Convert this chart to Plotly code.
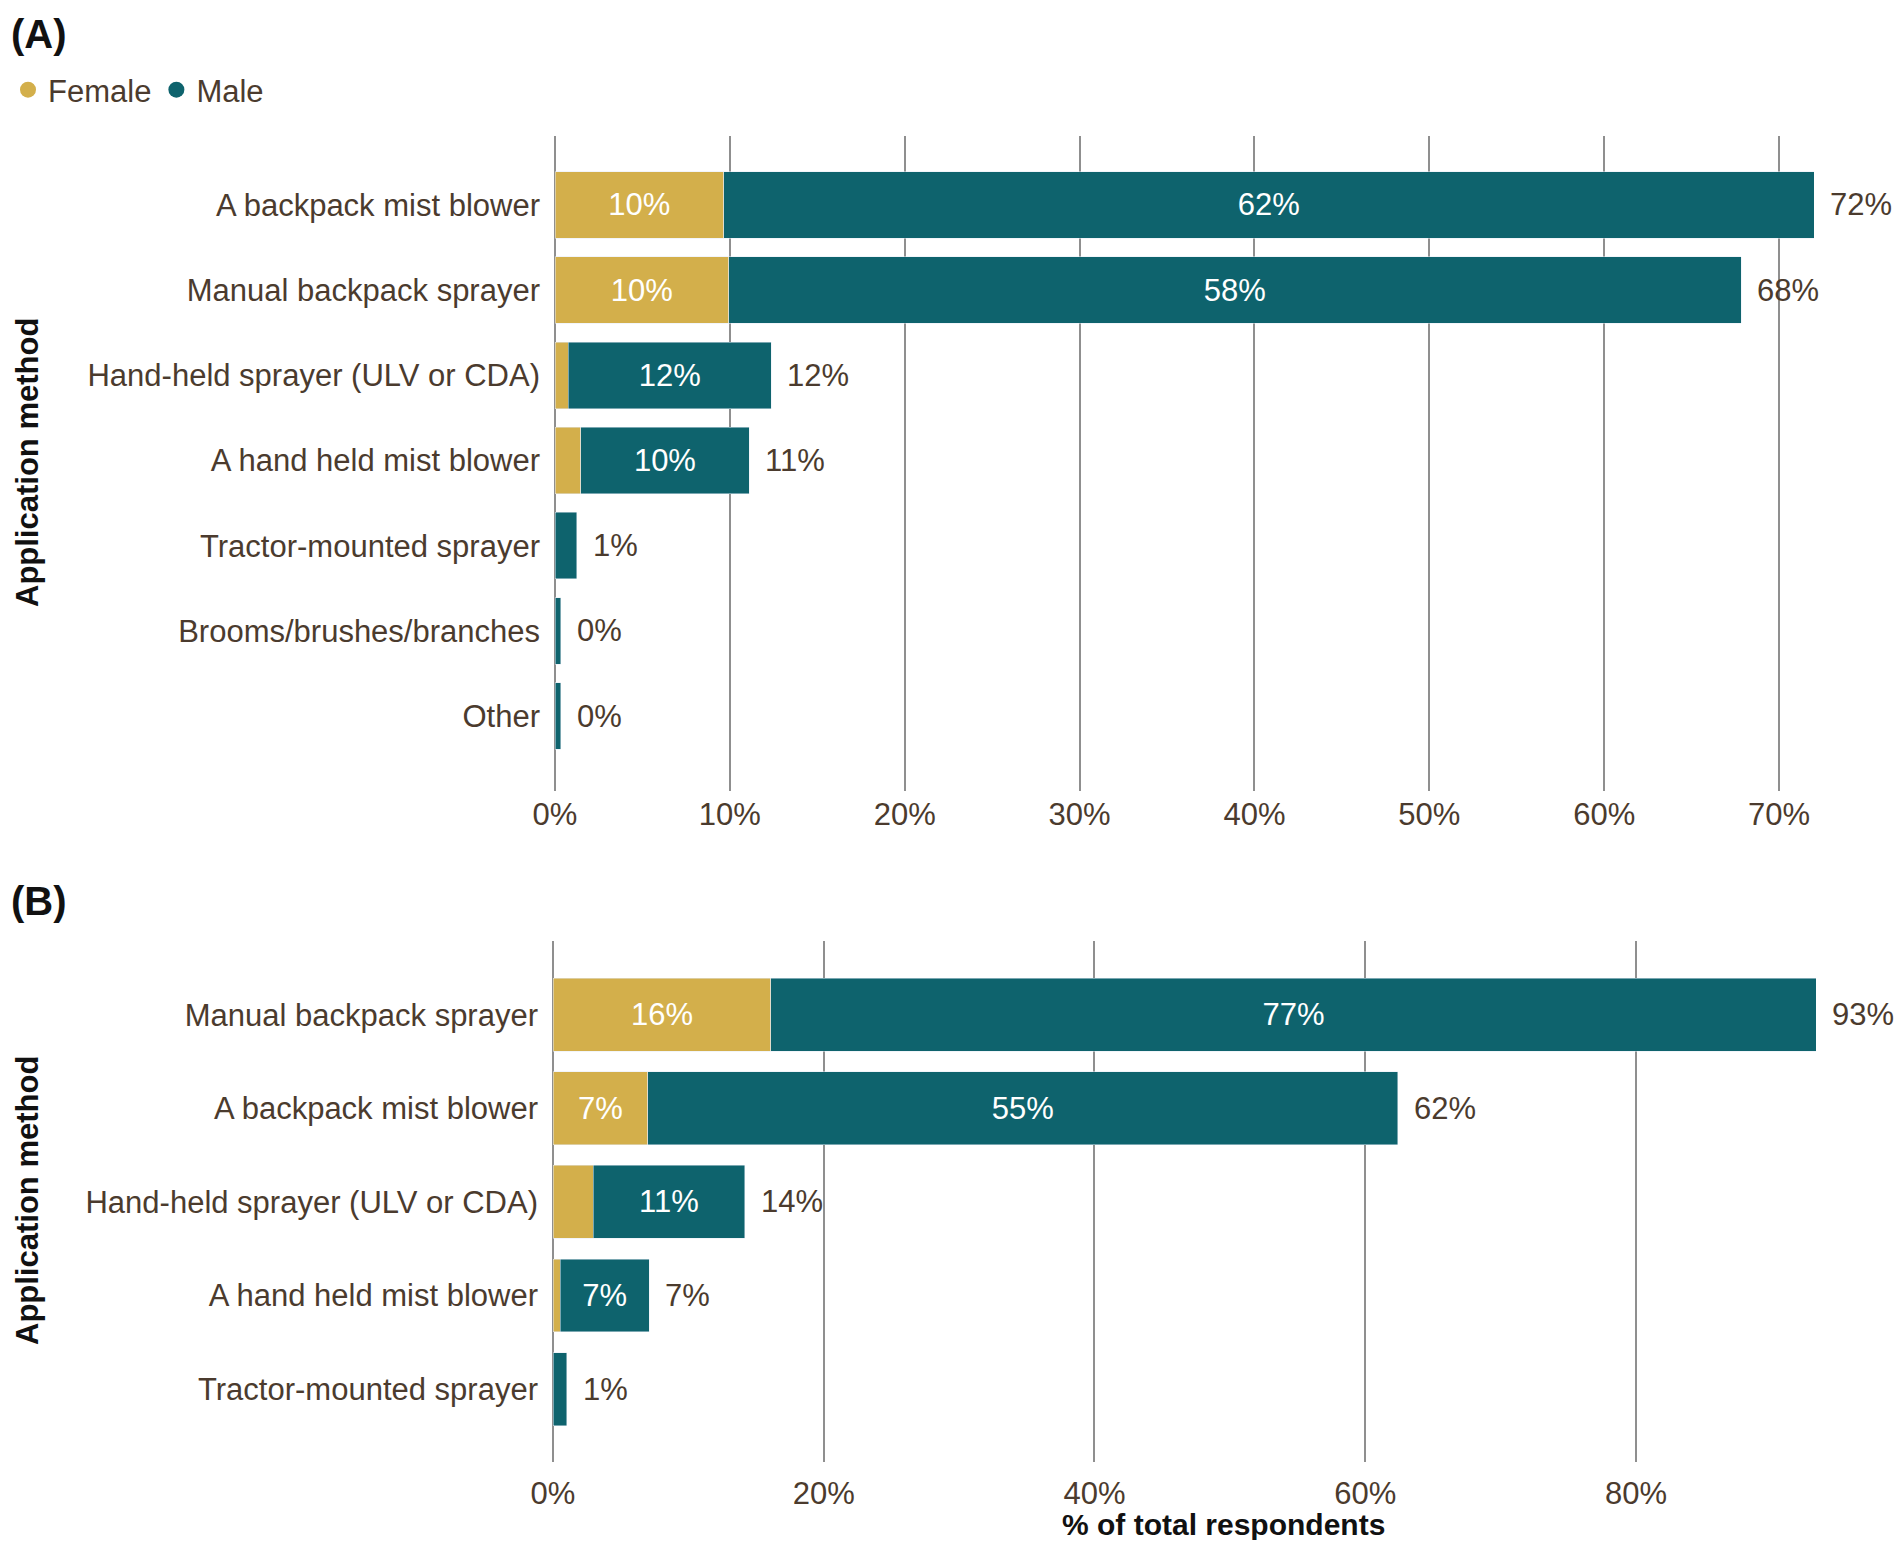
import plotly.graph_objects as go

# panel A
methods_a = ["A backpack mist blower", "Manual backpack sprayer", "Hand-held sprayer (ULV or CDA)",
             "A hand held mist blower", "Tractor-mounted sprayer", "Brooms/brushes/branches", "Other"]
female_a = [9.65, 9.93, 0.76, 1.46, 0.0, 0.0, 0.0]
male_a = [62.35, 57.9, 11.6, 9.65, 1.24, 0.33, 0.33]

# panel B
methods_b = ["Manual backpack sprayer", "A backpack mist blower", "Hand-held sprayer (ULV or CDA)",
             "A hand held mist blower", "Tractor-mounted sprayer"]
female_b = [16.1, 7.0, 2.96, 0.52, 0.0]
male_b = [77.2, 55.4, 11.2, 6.6, 1.0]

FEMALE = "#D3AF4B"
MALE = "#0E636D"
BROWN = "#4B3B2E"
GRID = "#8F8F8F"
FONT = "Arial, Liberation Sans, sans-serif"
OFF = 8  # page body margin
W, H = 1902 - 2 * OFF, 1548 - 2 * OFF


def px(x):
    return (x - OFF) / W


def py(y):
    return 1 - (y - OFF) / H


def lab(vals):
    return [f"{round(v)}%" if v >= 4 else "" for v in vals]


fig = go.Figure()

panels = [
    ("x", "y", methods_a, female_a, male_a),
    ("x2", "y2", methods_b, female_b, male_b),
]
for xa, ya, cats, fem, mal in panels:
    fig.add_trace(go.Bar(y=cats, x=fem, orientation="h", marker_color=FEMALE, xaxis=xa, yaxis=ya,
                         text=lab(fem), textposition="inside", insidetextanchor="middle",
                         textfont=dict(color="white", size=31, family=FONT),
                         showlegend=False, hoverinfo="skip"))
    fig.add_trace(go.Bar(y=cats, x=mal, orientation="h", marker_color=MALE, xaxis=xa, yaxis=ya,
                         text=lab(mal), textposition="inside", insidetextanchor="middle",
                         textfont=dict(color="white", size=31, family=FONT),
                         showlegend=False, hoverinfo="skip"))
    for c, f, m in zip(cats, fem, mal):
        fig.add_annotation(x=f + m, y=c, xref=xa, yref=ya, text=f"{round(f + m)}%",
                           showarrow=False, xanchor="left", xshift=14,
                           font=dict(size=31, color=BROWN, family=FONT))

# legend entries as circles
fig.add_trace(go.Scatter(x=[None], y=[None], mode="markers", name="Female",
                         marker=dict(symbol="circle", size=17, color=FEMALE)))
fig.add_trace(go.Scatter(x=[None], y=[None], mode="markers", name="Male",
                         marker=dict(symbol="circle", size=17, color=MALE)))

tot_a = max(f + m for f, m in zip(female_a, male_a))
tot_b = max(f + m for f, m in zip(female_b, male_b))

axis_common = dict(showgrid=True, gridcolor=GRID, gridwidth=2, zeroline=True, zerolinecolor=GRID,
                   zerolinewidth=2, showline=False, ticks="", ticksuffix="%", automargin=False,
                   tickfont=dict(size=31, color=BROWN, family=FONT))
yaxis_common = dict(showgrid=False, zeroline=False, showline=False, ticks="", automargin=False,
                    ticklabelstandoff=14, tickfont=dict(size=31, color=BROWN, family=FONT))

fig.update_layout(
    width=W, height=H,
    margin=dict(l=0, r=0, t=0, b=0),
    paper_bgcolor="white", plot_bgcolor="white",
    barmode="stack", bargap=0.22,
    font=dict(family=FONT, color=BROWN),
    xaxis=dict(domain=[px(555), px(1814)], range=[0, tot_a], dtick=10, anchor="y",
               ticklabelstandoff=2, **axis_common),
    yaxis=dict(domain=[py(791), py(136)], anchor="x", categoryorder="array", categoryarray=methods_a,
               range=[len(methods_a) - 1 + 0.88, -0.81], **yaxis_common),
    xaxis2=dict(domain=[px(553), px(1816)], range=[0, tot_b], dtick=20, anchor="y2",
                ticklabelstandoff=10, **axis_common),
    yaxis2=dict(domain=[py(1462), py(941)], anchor="x2", categoryorder="array", categoryarray=methods_b,
                range=[len(methods_b) - 1 + 0.78, -0.79], **yaxis_common),
    legend=dict(orientation="h", traceorder="normal", x=0, xanchor="left", y=py(90),
                yanchor="middle", font=dict(size=31, color=BROWN, family=FONT),
                bgcolor="rgba(0,0,0,0)"),
)

# panel letters and axis titles
for txt, yc in [("(A)", 34), ("(B)", 901)]:
    fig.add_annotation(text=f"<b>{txt}</b>", x=px(10), y=py(yc), xref="paper", yref="paper",
                       xanchor="left", yanchor="middle", showarrow=False, borderpad=0,
                       font=dict(size=40, color="#111111", family=FONT))
for yc in [463, 1201]:
    fig.add_annotation(text="<b>Application method</b>", x=px(27), y=py(yc), xref="paper",
                       yref="paper", textangle=-90, xanchor="center", yanchor="middle",
                       showarrow=False, font=dict(size=31, color="#111111", family=FONT))
fig.add_annotation(text="<b>% of total respondents</b>", x=px(1223), y=py(1524), xref="paper",
                   yref="paper", xanchor="center", yanchor="middle", showarrow=False,
                   font=dict(size=30, color="#111111", family=FONT))

fig.write_html("out.html")
